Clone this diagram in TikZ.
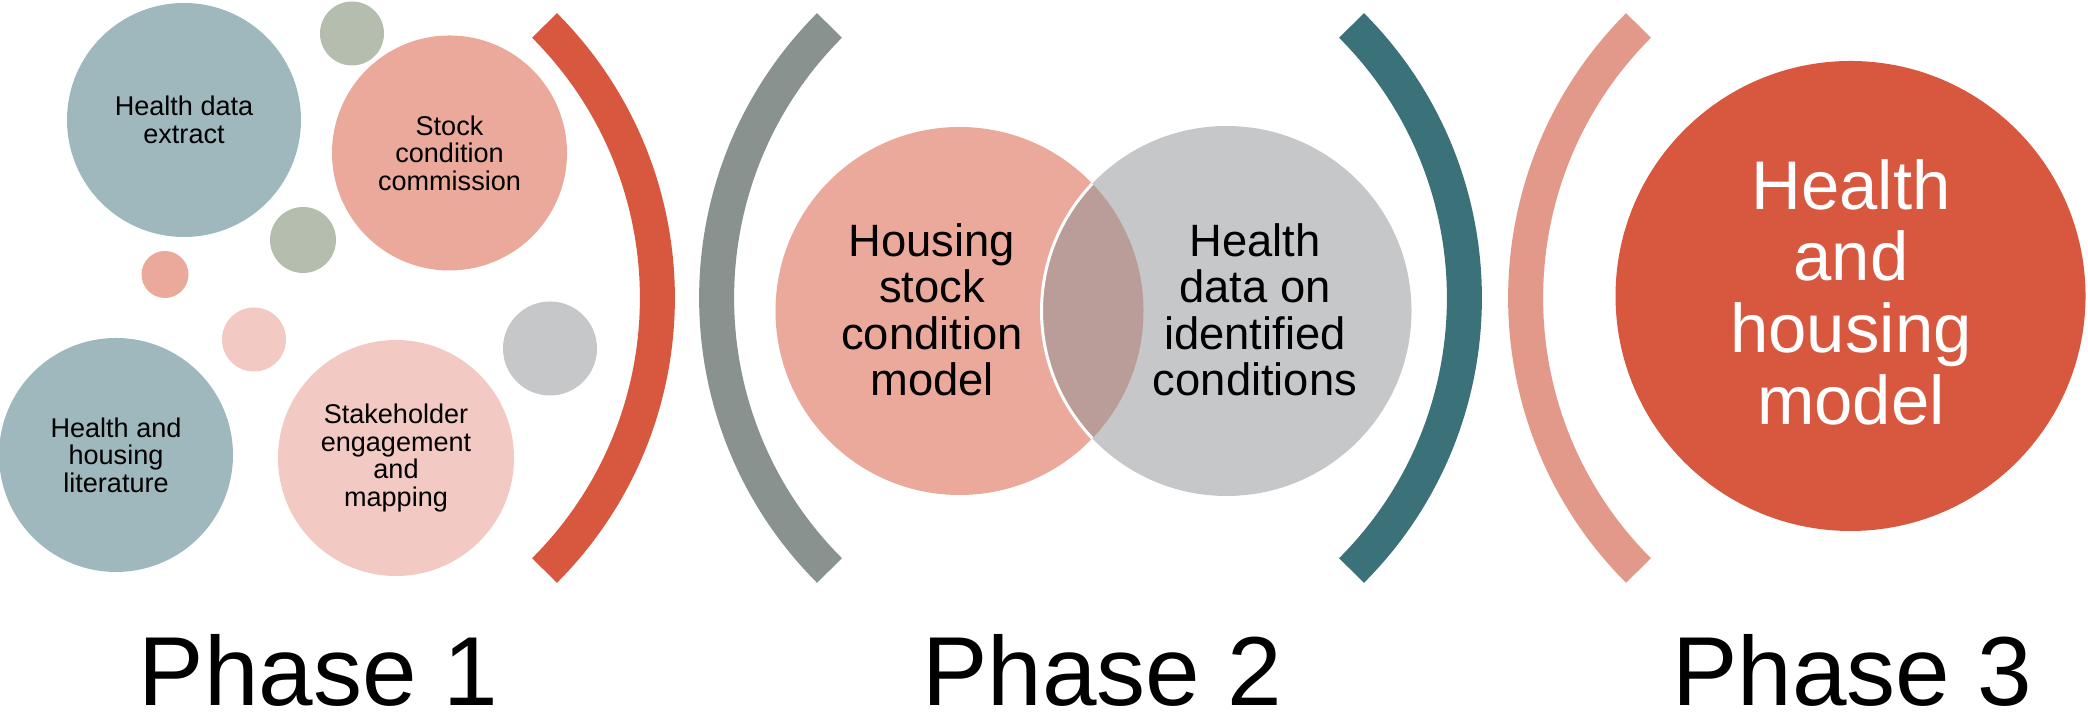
\documentclass[tikz,border=0pt]{standalone}
\usepackage{fontspec}
\setmainfont{Liberation Sans}
\usepackage{tikz}
\usepackage{xcolor}
\definecolor{bluegrey}{HTML}{9EB8BD}
\definecolor{salmon}{HTML}{EAA99A}
\definecolor{blush}{HTML}{F2C9C3}
\definecolor{sage}{HTML}{B5BDAE}
\definecolor{silver}{HTML}{C6C7C9}
\definecolor{brick}{HTML}{D8583F}
\definecolor{slate}{HTML}{8A9290}
\definecolor{petrol}{HTML}{3B7179}
\definecolor{peach}{HTML}{E3998A}
\definecolor{lens}{HTML}{BA9D98}

\begin{document}
\begin{tikzpicture}[
  bubble/.style={circle,inner sep=0pt,align=center,font=\fontsize{7.7pt}{7.85pt}\selectfont},
  dot/.style={circle,inner sep=0pt},
  venntext/.style={inner sep=0pt,align=center,font=\fontsize{12.9pt}{13.2pt}\selectfont},
  bracket/.style={line width=0.35cm},
  phase/.style={inner sep=0pt,anchor=base,font=\fontsize{27.9pt}{30pt}\selectfont}]
\useasboundingbox (0,0) rectangle (20.88,7.14);
\node[bubble,fill=bluegrey,minimum size=2.34cm] (A) at (1.84,5.94) {Health data\\extract};
\node[bubble,fill=salmon,minimum size=2.35cm] (B) at (4.495,5.61) {Stock\\condition\\commission};
\node[bubble,fill=bluegrey,minimum size=2.34cm] (C) at (1.16,2.59) {Health and\\housing\\literature};
\node[bubble,fill=blush,minimum size=2.36cm] (D) at (3.96,2.56) {Stakeholder\\engagement\\and\\mapping};
\node[dot,fill=sage,minimum size=0.64cm] (E) at (3.52,6.805) {};
\node[dot,fill=sage,minimum size=0.66cm] (F) at (3.03,4.74) {};
\node[dot,fill=salmon,minimum size=0.47cm] (G) at (1.65,4.395) {};
\node[dot,fill=blush,minimum size=0.64cm] (H) at (2.54,3.745) {};
\node[dot,fill=silver,minimum size=0.94cm] (I) at (5.50,3.655) {};
\draw[bracket,brick] (2.72,4.16) ++(-45:3.854) arc[start angle=-45,end angle=45,radius=3.854];

\draw[bracket,slate] (11.02,4.16) ++(135:3.854) arc[start angle=135,end angle=225,radius=3.854];
\node[dot,fill=salmon,minimum size=3.68cm] (K) at (9.595,4.03) {};
\node[dot,fill=silver,minimum size=3.70cm] (L) at (12.265,4.03) {};
\begin{scope}
\clip (K.center) circle[radius=1.84];
\fill[lens] (L.center) circle[radius=1.85];
\draw[white,line width=0.03cm] (L.center) circle[radius=1.85];
\end{scope}
\node[venntext] (Ka) at (9.32,4.04) {Housing\\stock\\condition\\model};
\node[venntext] (La) at (12.55,4.04) {Health\\data on\\identified\\conditions};
\draw[bracket,petrol] (10.79,4.16) ++(-45:3.854) arc[start angle=-45,end angle=45,radius=3.854];

\draw[bracket,peach] (19.11,4.16) ++(135:3.854) arc[start angle=135,end angle=225,radius=3.854];
\node[dot,fill=brick,minimum size=4.70cm] (M) at (18.505,4.18) {};
\node[venntext,text=white,font=\fontsize{19.6pt}{20.4pt}\selectfont] (Ma) at (18.51,4.22) {Health\\and\\housing\\model};

\node[phase] (Pa) at (3.186,0.08) {Phase 1};
\node[phase] (Pb) at (11.02,0.08) {Phase 2};
\node[phase] (Pc) at (18.52,0.08) {Phase 3};
\end{tikzpicture}
\end{document}
